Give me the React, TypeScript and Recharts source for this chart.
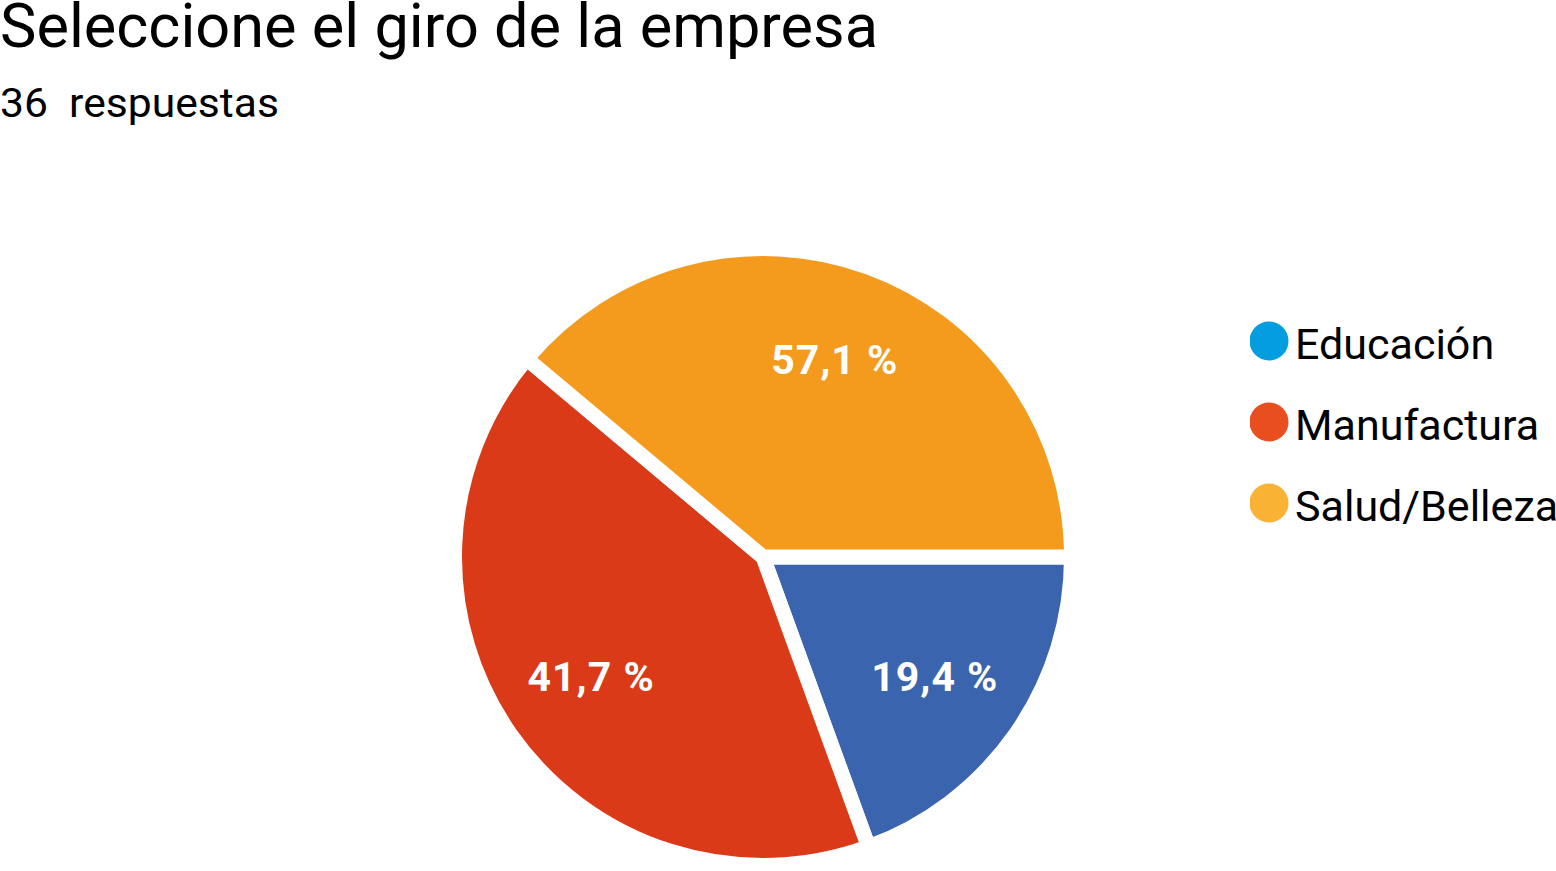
import { PieChart, Pie, Cell, Legend } from "recharts";

const categories = ["Educación", "Manufactura", "Salud/Belleza"];
const responses = [7, 15, 14];
const sliceLabels = ["19,4 %", "41,7 %", "57,1 %"];
const sliceColors = ["#3A64AD", "#DA3A17", "#F49B1D"];
const legendColors = ["#039DE0", "#E94E1E", "#F9B233"];

const TITLE = "Seleccione el giro de la empresa";
const SUBTITLE = "36  respuestas";

const data = categories.map((name, i) => ({ name, value: responses[i] }));

const RAD = Math.PI / 180;

function renderLabel(props: any) {
  const { cx, cy, midAngle, outerRadius, index } = props;
  const r = outerRadius * 0.68;
  const x = cx + r * Math.cos(-midAngle * RAD);
  const y = cy + r * Math.sin(-midAngle * RAD);
  return (
    <text
      x={x}
      y={y}
      fill="#fff"
      textAnchor="middle"
      dominantBaseline="central"
      fontFamily="Roboto, sans-serif"
      fontWeight={700}
      fontSize={41}
      letterSpacing={1}
    >
      {sliceLabels[index]}
    </text>
  );
}

function LegendBox() {
  return (
    <svg width={310} height={240}>
      {categories.map((name, i) => (
        <g key={name} transform={`translate(0, ${i * 81})`}>
          <circle cx={19} cy={23} r={19.5} fill={legendColors[i]} />
          <text
            x={45}
            y={41}
            fontFamily="Roboto, sans-serif"
            fontSize={43}
            fill="#000"
          >
            {name}
          </text>
        </g>
      ))}
    </svg>
  );
}

export default function App() {
  return (
    <div
      style={{
        position: "absolute",
        left: 0,
        top: 0,
        width: 1556,
        height: 871,
        background: "#fff",
      }}
    >
      <svg
        width={1556}
        height={140}
        style={{ position: "absolute", left: 0, top: 0 }}
      >
        <text
          x={0}
          y={47}
          fontFamily="Roboto, sans-serif"
          fontSize={62}
          fill="#000"
          textLength={878}
          lengthAdjust="spacingAndGlyphs"
        >
          {TITLE}
        </text>
        <text
          x={0}
          y={117}
          fontFamily="Roboto, sans-serif"
          fontSize={41}
          fill="#000"
          textLength={279}
          lengthAdjust="spacingAndGlyphs"
          style={{ whiteSpace: "pre" }}
        >
          {SUBTITLE}
        </text>
      </svg>
      <PieChart width={1556} height={871} style={{ position: "absolute", left: 0, top: 0 }}>
        <Pie
          data={data}
          dataKey="value"
          nameKey="name"
          cx={758}
          cy={552}
          outerRadius={308.5}
          startAngle={0}
          endAngle={-360}
          stroke="#fff"
          strokeWidth={15}
          label={renderLabel}
          labelLine={false}
          isAnimationActive={false}
        >
          {data.map((d, i) => (
            <Cell key={d.name} fill={sliceColors[i]} />
          ))}
        </Pie>
        <Legend
          layout="vertical"
          content={() => <LegendBox />}
          wrapperStyle={{ position: "absolute", left: 1250, top: 318, width: 310 }}
        />
      </PieChart>
    </div>
  );
}
